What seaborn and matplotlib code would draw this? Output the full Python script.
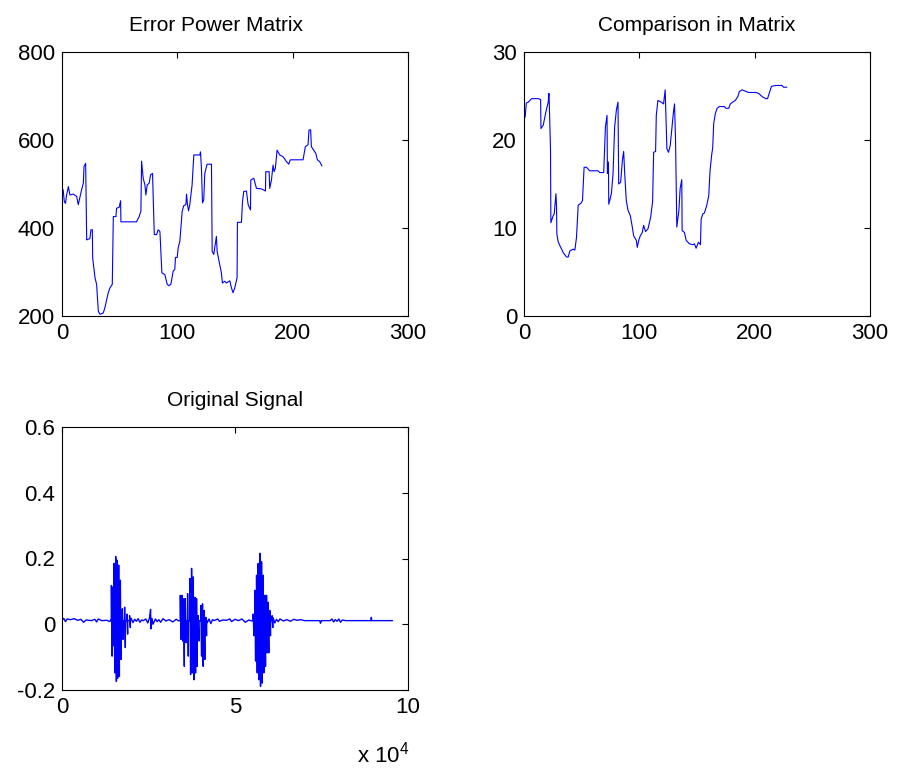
import numpy as np
import pandas as pd
import matplotlib
matplotlib.use("Agg")
import matplotlib.pyplot as plt
import seaborn as sns

# ---------------- data ----------------
err_x = [1, 2, 3, 4, 5.5, 6.9, 9.8, 12.7, 14.1, 17, 18.5, 19.1, 20.5, 21.4, 24.2, 25.1, 26.3, 26.6,
         28.6, 30, 31.5, 32.9, 35.8, 37.2, 40.1, 41.6, 43.6, 44.5, 46.8, 47.3, 49.6, 50.8, 51.1,
         64.6, 66.9, 68.4, 69, 70.4, 71.9, 72.7, 73.9, 75.6, 76.8, 78.5, 80, 82, 83.4, 84.9, 86.6,
         89.2, 91.2, 92.6, 94.4, 96.4, 97.8, 98.4, 99.9, 100.7, 102.2, 104.2, 105.6, 107.4, 108,
         108.8, 109.7, 110.8, 112.8, 114.3, 119.5, 120.1, 120.9, 121.8, 122.9, 123.8, 125.8, 129.6,
         130.2, 131.6, 133.9, 134.5, 136.2, 138.2, 139.1, 141.1, 142.6, 145.5, 146.9, 148.3, 149.8,
         151.8, 152.1, 155.6, 156.5, 157.6, 159.9, 161.4, 163.4, 163.7, 166.3, 168.6, 172.9, 176.4,
         176.7, 179.6, 180.1, 181.6, 183, 183.9, 185, 186.5, 188.8, 191.7, 194.6, 196.6, 198, 209,
         211, 213.3, 214.2, 215.6, 216.2, 218.2, 220, 221.4, 223.4, 225.4]
err_y = [487, 460, 456, 475, 494, 475, 477, 472, 453, 487, 502, 540, 547, 373, 376, 396, 396, 332,
         287, 272, 211, 204, 207, 219, 253, 264, 272, 426, 426, 445, 447, 462, 414,
         414, 426, 438, 552, 513, 498, 475, 498, 502, 521, 524, 385, 385, 396, 392, 298,
         294, 272, 269, 272, 302, 306, 333, 333, 355, 370, 438, 451, 453, 477,
         453, 439, 453, 498, 566, 566, 573, 536, 457, 464, 524, 545, 545,
         347, 340, 381, 347, 324, 298, 275, 279, 275, 280, 264, 253, 264,
         287, 413, 413, 460, 483, 484, 453, 441, 509, 513, 490, 489, 484,
         528, 528, 490, 509, 543, 528, 536, 577, 566, 562, 551, 545, 555, 555,
         585, 589, 623, 623, 585, 577, 570, 555, 551, 541]

cmp_x = [1, 1.5, 2, 3.7, 6.6, 12.4, 14.4, 14.7, 16.7, 19, 21, 21.6, 21.9, 23, 23.3, 25.3, 26.2, 27.7,
         28.2, 28.5, 29.7, 31.1, 32.6, 34, 36.9, 38.3, 39.8, 42.6, 44.1, 45.5, 47, 49.3, 50.7, 52.1,
         54.2, 57, 64.2, 65.7, 68, 69.1, 70.6, 72, 72.3, 73.2, 73.5, 75.8, 77.2, 78.6, 80.1, 81.5,
         82.1, 83.8, 85.3, 86.4, 87.3, 88.7, 90.2, 92.2, 93.9, 95.1, 97.4, 98.2, 99.7, 100.8, 102.6,
         103.7, 105.4, 107.5, 109.8, 111.5, 112.4, 114.1, 114.7, 116.1, 119, 121, 122.4, 123.9,
         125.3, 126.8, 128.2, 129.6, 130.5, 131.4, 132.5, 134.3, 135.4, 136.8, 137.1, 139.1, 140.6,
         143.5, 146.4, 147.8, 149.2, 151.3, 153, 153.6, 155, 156.4, 158.5, 160.2, 161.3, 162.8,
         163.6, 164.5, 165.9, 167.4, 169.4, 173.7, 175.2, 177.5, 178.9, 180.9, 183.2, 185.3, 186.7,
         189, 191, 194.8, 201.1, 203.4, 206.8, 209.7, 211.2, 212.6, 214.6, 218.4, 223.6, 225, 227.9]
cmp_y = [22.6, 23.4, 24.2, 24.3, 24.7, 24.7, 24.6, 21.3, 21.7, 23.2, 24.3, 25.3, 24.3, 18.8, 10.6,
         11.4, 11.6, 13.9, 12.4, 9.3, 8.4, 8.0, 7.6, 7.2, 6.7, 6.7, 7.4, 7.6, 7.5, 8.9, 12.6, 12.8,
         13.1, 16.9, 16.9, 16.5, 16.5, 16.3, 16.3, 16.3, 21.5, 22.8, 16.2, 17.5, 12.7, 13.9, 16.2,
         21.5, 23.4, 24.3, 15.0, 15.2, 17.7, 18.7, 16.2, 13.1, 12.0, 11.4, 10.1, 9.1, 8.6, 7.8, 8.7,
         9.1, 9.5, 10.3, 9.6, 9.9, 11.2, 13.0, 18.6, 18.7, 22.8, 24.5, 24.3, 24.1, 25.7, 19.0, 18.6,
         19.4, 21.3, 23.2, 24.1, 20.0, 10.1, 12.0, 14.5, 15.5, 9.7, 9.5, 8.6, 8.2, 8.1, 8.2, 7.7,
         8.4, 8.1, 11.0, 11.6, 11.7, 12.6, 13.7, 16.5, 18.4, 19.1, 21.9, 23.0, 23.6, 23.8, 23.8,
         23.6, 23.6, 24.1, 24.3, 24.5, 24.9, 25.5, 25.7, 25.6, 25.4, 25.4, 25.3, 24.9, 24.7, 24.7,
         25.3, 26.1, 26.2, 26.2, 26.0, 26.0]

# Original signal: quiet stretches (time in units of 1e4 samples) and bursts of spikes
quiet_t = [0.00, 0.05, 0.10, 0.15, 0.25, 0.35, 0.45, 0.55, 0.62, 0.70, 0.85, 0.95, 1.00, 1.05, 1.15,
           1.30, 1.38, 1.42,
           2.00, 2.05, 2.10, 2.15, 2.20, 2.25, 2.30, 2.35, 2.42, 2.48, 2.53, 2.56, 2.57, 2.60, 2.63,
           2.70, 2.75, 2.80, 2.85, 2.92, 3.00, 3.10, 3.20, 3.30, 3.38,
           4.20, 4.25, 4.30, 4.35, 4.40, 4.50, 4.55, 4.65, 4.75, 4.85, 4.90, 5.00, 5.10, 5.20, 5.30,
           5.40, 5.48,
           6.10, 6.15, 6.20, 6.25, 6.30, 6.40, 6.50, 6.60, 6.70, 6.80, 6.90, 7.00, 7.45, 7.47, 7.50,
           7.75, 7.80, 7.85, 7.90, 7.95, 8.00, 8.05, 8.10, 8.20, 8.93, 8.94, 8.95, 9.55]
quiet_v = [0.012, 0.018, 0.008, 0.016, 0.014, 0.017, 0.012, 0.015, 0.006, 0.013, 0.011, 0.015, 0.007,
           0.016, 0.011, 0.012, 0.008, 0.014,
           0.018, 0.005, 0.015, 0.009, 0.017, 0.006, 0.013, 0.011, 0.016, 0.004, 0.020, 0.045, -0.014,
           0.018, 0.000, 0.016, 0.008, 0.014, 0.006, 0.017, 0.010, 0.014, 0.007, 0.015, 0.010,
           0.005, 0.016, 0.002, 0.014, 0.011, 0.016, 0.009, 0.013, 0.012, 0.016, 0.008, 0.015, 0.011,
           0.016, 0.006, 0.013, 0.010,
           0.020, 0.004, 0.015, 0.008, 0.016, 0.010, 0.014, 0.009, 0.015, 0.012, 0.014, 0.011, 0.011,
           0.003, 0.011, 0.011, 0.016, 0.007, 0.014, 0.009, 0.016, 0.006, 0.013, 0.011, 0.011, 0.021,
           0.011, 0.011]

spike_t = [1.428, 1.456, 1.504, 1.552, 1.590, 1.638, 1.686, 1.744, 1.810, 1.877, 1.954,
           3.420, 3.467, 3.515, 3.563, 3.630, 3.697, 3.745, 3.793, 3.841, 3.889, 3.937, 4.014, 4.061,
           4.109, 4.158,
           5.526, 5.575, 5.623, 5.670, 5.718, 5.767, 5.813, 5.862, 5.911, 5.957, 6.006, 6.072]
spike_hi = [0.118, 0.113, 0.185, 0.206, 0.195, 0.180, 0.134, 0.047, 0.052, 0.031, 0.026,
            0.088, 0.088, 0.078, 0.078, 0.093, 0.139, 0.170, 0.144, 0.082, 0.078, 0.026, 0.057, 0.062,
            0.042, 0.021,
            0.031, 0.103, 0.149, 0.185, 0.216, 0.190, 0.149, 0.088, 0.088, 0.067, 0.042, 0.026]
spike_lo = [-0.097, -0.066, -0.148, -0.174, -0.164, -0.158, -0.107, -0.046, -0.071, -0.030, -0.010,
            -0.046, -0.051, -0.128, -0.056, -0.097, -0.153, -0.148, -0.169, -0.148, -0.128, -0.051,
            -0.097, -0.128, -0.107, -0.035,
            -0.035, -0.112, -0.148, -0.169, -0.189, -0.179, -0.148, -0.128, -0.087, -0.087, -0.035,
            -0.010]

# build the signal polyline from quiet samples and spikes
base = 0.011
pts = [(t, v) for t, v in zip(quiet_t, quiet_v)]
for t, h, l in zip(spike_t, spike_hi, spike_lo):
    pts += [(t - 0.004, base), (t, h), (t + 0.02, l), (t + 0.024, base)]
pts.sort(key=lambda p: p[0])
sig = pd.DataFrame(pts, columns=["t", "v"])
sig["t"] = sig["t"] * 1e4

err_df = pd.DataFrame({"x": err_x, "y": err_y})
cmp_df = pd.DataFrame({"x": cmp_x, "y": cmp_y})

# ---------------- style ----------------
sns.set_style("white")
plt.rcParams["font.family"] = ["Liberation Sans", "DejaVu Sans"]
plt.rcParams["mathtext.fontset"] = "custom"
plt.rcParams["mathtext.rm"] = "Liberation Sans"
plt.rcParams["mathtext.default"] = "regular"
plt.rcParams["text.color"] = "black"

fig = plt.figure(figsize=(8.97, 7.69), dpi=100)
W, H = 897, 769


def axes_px(l, t, r, b):
    return fig.add_axes([l / W, 1 - b / H, (r - l) / W, (b - t) / H])


ax1 = axes_px(62, 52, 408, 316)
ax2 = axes_px(524, 52, 870, 316)
ax3 = axes_px(62, 427, 408, 690)

blue = "#0000FF"
sns.lineplot(data=err_df, x="x", y="y", ax=ax1, color=blue, lw=0.8, sort=False, estimator=None)
sns.lineplot(data=cmp_df, x="x", y="y", ax=ax2, color=blue, lw=0.8, sort=False, estimator=None)
sns.lineplot(data=sig, x="t", y="v", ax=ax3, color=blue, lw=1.0, sort=False, estimator=None)

ax1.set_xlim(0, 300); ax1.set_ylim(200, 800)
ax1.set_xticks([0, 100, 200, 300]); ax1.set_yticks([200, 400, 600, 800])
ax2.set_xlim(0, 300); ax2.set_ylim(0, 30)
ax2.set_xticks([0, 100, 200, 300]); ax2.set_yticks([0, 10, 20, 30])
ax3.set_xlim(0, 1e5); ax3.set_ylim(-0.2, 0.6)
ax3.set_xticks([0, 5e4, 1e5]); ax3.set_xticklabels(["0", "5", "10"])
ax3.set_yticks([-0.2, 0, 0.2, 0.4, 0.6]); ax3.set_yticklabels(["-0.2", "0", "0.2", "0.4", "0.6"])

titles = ["Error Power Matrix", "Comparison in Matrix", "Original Signal"]
title_x = [(216 - 62) / 346, 0.5, 0.5]
for ax, ttl, tx in zip([ax1, ax2, ax3], titles, title_x):
    ax.set_title(ttl, fontsize=15, pad=15, x=tx, color="black")
    ax.set_xlabel("")
    ax.set_ylabel("")
    ax.tick_params(direction="in", top=True, right=True, length=4, width=0.8,
                   labelsize=16, pad=5, colors="black")
    for s in ax.spines.values():
        s.set_visible(True)
        s.set_color("black")
        s.set_linewidth(0.8)

fig.text(409 / W, 1 - 762 / H, r"x 10$^{4}$", ha="right", va="baseline", fontsize=16,
         color="black")

fig.savefig("out.png", dpi=100, facecolor="white")
